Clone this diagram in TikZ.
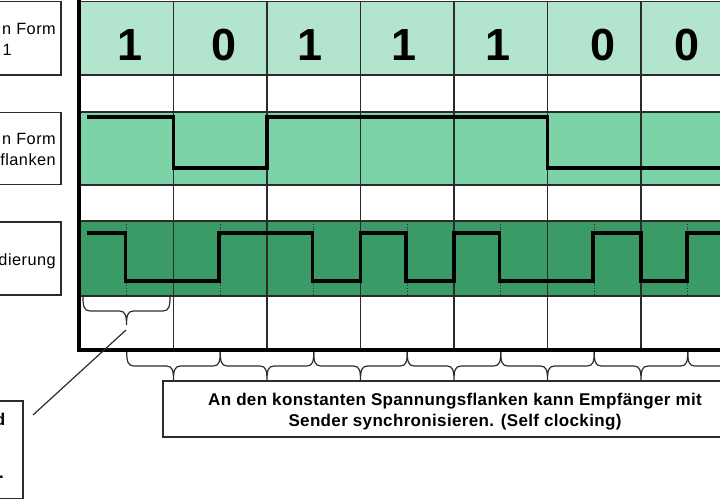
\documentclass[tikz,border=0pt]{standalone}
\usepackage{fontspec}
\setmainfont{Liberation Sans}
\newfontfamily\lsfont[LetterSpace=3]{Liberation Sans}
\newfontfamily\ntfont[LetterSpace=2]{Liberation Sans}
\definecolor{lightg}{HTML}{B3E5CE}
\definecolor{midg}{HTML}{7DD3A8}
\definecolor{darkg}{HTML}{3A9B66}
\definecolor{gridc}{HTML}{2B2B2B}
\newcommand\BraceDown[3]{%
  \draw[bracestyle] (#1,#3) .. controls (#1,#3+9) and (#1+1,#3+14) .. (#1+7,#3+14)
    -- ({(#1+#2)/2-7},#3+14) .. controls ({(#1+#2)/2-1},#3+14) and ({(#1+#2)/2},#3+19) .. ({(#1+#2)/2},#3+28)
    .. controls ({(#1+#2)/2},#3+19) and ({(#1+#2)/2+1},#3+14) .. ({(#1+#2)/2+7},#3+14)
    -- (#2-7,#3+14) .. controls (#2-1,#3+14) and (#2,#3+9) .. (#2,#3);}
\tikzset{
  gridline/.style={draw=gridc, line width=1.2pt},
  midmark/.style={draw=gridc, dotted, line width=0.8pt},
  wave/.style={draw=black, line width=3.6pt, line join=miter},
  axisline/.style={draw=black, line width=3.8pt, line join=miter},
  bracestyle/.style={draw=gridc, line width=1.2pt},
  labelbox/.style={draw=gridc, line width=1.2pt, fill=white, rectangle, inner sep=0pt},
  lbl/.style={font=\lsfont\fontsize{16.3}{18}\selectfont, inner sep=0pt},
  lblb/.style={font=\lsfont\bfseries\fontsize{17}{18}\selectfont, inner sep=0pt},
  digit/.style={font=\bfseries\fontsize{45}{45}\selectfont, inner sep=0pt},
  notefont/.style={font=\ntfont\bfseries\fontsize{17}{21}\selectfont, inner sep=0pt, align=center}
}
\begin{document}
\begin{tikzpicture}[x=1pt,y=-1pt]
\useasboundingbox (0,0) rectangle (720,500);
\clip (0,0) rectangle (720,500);
% row fills
\fill[lightg] (80,1.5) rectangle (770,75);
\fill[midg] (80,112) rectangle (770,185);
\fill[darkg] (80,221) rectangle (770,296);
% dotted mid-bit marks
\foreach \k in {0,...,6} \draw[midmark] ({126.75+93.5*\k},221) -- ({126.75+93.5*\k},296);
% grid
\foreach \y in {1.5,75,112,185,221,296} \draw[gridline] (80,\y) -- (770,\y);
\foreach \k in {1,...,7} \draw[gridline] ({80+93.5*\k},1.5) -- ({80+93.5*\k},350);
% bit values
\node[digit] (d1) at (130,45) {1};
\node[digit] (d2) at (224,45) {0};
\node[digit] (d3) at (310.5,45) {1};
\node[digit] (d4) at (404.5,45) {1};
\node[digit] (d5) at (498.5,45) {1};
\node[digit] (d6) at (603,45) {0};
\node[digit] (d7) at (687.5,45) {0};
% NRZ waveform
\draw[wave] (87,117) -- (173.5,117) -- (173.5,168) -- (267,168) -- (267,117) -- (547.5,117) -- (547.5,168) -- (730,168);
% Manchester waveform
\draw[wave] (87,233) -| (125.5,281) -| (219,233) -| (312.5,281) -| (360.5,233) -| (406,281) -| (454,233) -| (499.5,281) -| (593,233) -| (641,281) -| (687,233) -- (730,233);
% axes
\draw[axisline] (79,0) -- (79,350) -- (730,350);
% left label boxes (cut off by the picture edge)
\node[labelbox, minimum width=161pt, minimum height=73.5pt] (b1) at (-19.5,38.25) {};
\node[labelbox, minimum width=161pt, minimum height=72pt] (b2) at (-19.5,148.5) {};
\node[labelbox, minimum width=161pt, minimum height=73pt] (b3) at (-19.5,258.5) {};
\node[labelbox, minimum width=123pt, minimum height=97.5pt] (b4) at (-38.5,449.75) {};
\node[lbl, anchor=base east] (t1a) at (56,35) {n Form};
\node[lbl, anchor=base west] (t1b) at (2.5,56) {1};
\node[lbl, anchor=base east] (t2a) at (56,144) {n Form};
\node[lbl, anchor=base east] (t2b) at (56,165.5) {flanken};
\node[lbl, anchor=base east] (t3a) at (56,265.5) {dierung};
\node[lblb, anchor=base east] (t4a) at (5.5,425) {d};
\node[lblb, anchor=base east] (t4b) at (4,478) {.};
% braces
\BraceDown{83}{170}{297}
\foreach \k [evaluate=\k as \xa using 126.75+93.5*\k, evaluate=\k as \xb using 126.75+93.5*(\k+1)] in {0,...,6} {\BraceDown{\xa}{\xb}{352}}
% pointer line from the single-bit brace
\coordinate (tipA) at (126,330);
\coordinate (endA) at (33,415);
\draw[bracestyle] (tipA) -- (endA);
% note box
\node[labelbox, minimum width=584pt, minimum height=56pt] (note) at (455,409) {};
\node[notefont] (notetext) at (455,412) {An den konstanten Spannungsflanken kann Empfänger mit\\Sender synchronisieren. (Self clocking)};
\end{tikzpicture}
\end{document}
